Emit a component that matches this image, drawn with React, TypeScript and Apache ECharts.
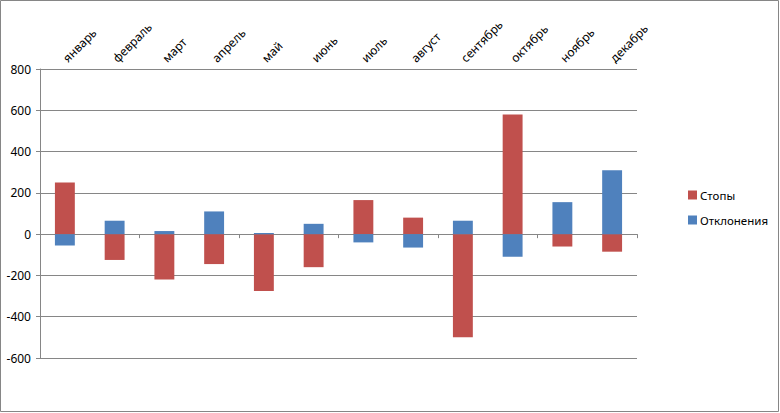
import React, { useEffect, useRef } from "react";
import * as echarts from "echarts";

const months = ["январь", "февраль", "март", "апрель", "май", "июнь", "июль", "август", "сентябрь", "октябрь", "ноябрь", "декабрь"];
const stops = [250, -125, -220, -145, -275, -160, 165, 80, -500, 580, -60, -85];
const deviations = [-55, 65, 15, 110, 5, 50, -40, -65, 65, -110, 155, 310];
const seriesNames = ["Стопы", "Отклонения"];

const FONT = "Noto Sans";

export default function App() {
  const ref = useRef<HTMLDivElement>(null);
  useEffect(() => {
    document.body.style.margin = "0";
    const chart = echarts.init(ref.current!, undefined, { renderer: "svg" });
    chart.setOption({
      animation: false,
      backgroundColor: "#ffffff",
      textStyle: { fontFamily: FONT },
      graphic: [
        {
          type: "rect",
          shape: { x: 0.5, y: 0.5, width: 778, height: 411 },
          style: { fill: "none", stroke: "#868686", lineWidth: 1 },
          silent: true,
        },
      ],
      legend: {
        orient: "vertical",
        left: 683,
        top: 184,
        itemWidth: 9,
        itemHeight: 9,
        itemGap: 13,
        icon: "rect",
        textStyle: { fontFamily: FONT, fontSize: 11.5, color: "#000", padding: [0, 0, 0, -2] },
        data: seriesNames,
      },
      grid: { left: 40, right: 143, top: 69, bottom: 55, containLabel: false },
      xAxis: [
        {
          type: "category",
          data: months,
          position: "bottom",
          axisLine: { onZero: true, lineStyle: { color: "#868686", width: 1 } },
          axisTick: { show: true, length: 4, lineStyle: { color: "#868686" } },
          axisLabel: { show: false },
          splitLine: { show: false },
        },
        {
          type: "category",
          data: months,
          position: "top",
          axisLine: { show: false },
          axisTick: { show: false },
          axisLabel: {
            rotate: -45,
            margin: 9,
            interval: 0,
            fontFamily: FONT,
            fontSize: 12,
            color: "#000",
          },
        },
      ],
      yAxis: {
        type: "value",
        min: -600,
        max: 800,
        interval: 200,
        axisLine: { show: true, lineStyle: { color: "#868686" } },
        axisTick: { show: true, length: 4, lineStyle: { color: "#868686" } },
        axisLabel: { fontFamily: FONT, fontSize: 12, color: "#000", margin: 9 },
        splitLine: { show: true, lineStyle: { color: "#868686", width: 1 } },
      },
      series: [
        {
          name: seriesNames[0],
          type: "bar",
          stack: "s",
          xAxisIndex: 0,
          barWidth: "40%",
          itemStyle: { color: "#C0504D" },
          data: stops,
        },
        {
          name: seriesNames[1],
          type: "bar",
          stack: "s",
          xAxisIndex: 0,
          barWidth: "40%",
          itemStyle: { color: "#4F81BD" },
          data: deviations,
        },
      ],
    });
    return () => chart.dispose();
  }, []);
  return <div ref={ref} style={{ width: 780, height: 413, position: "absolute", left: 0, top: 0 }} />;
}
